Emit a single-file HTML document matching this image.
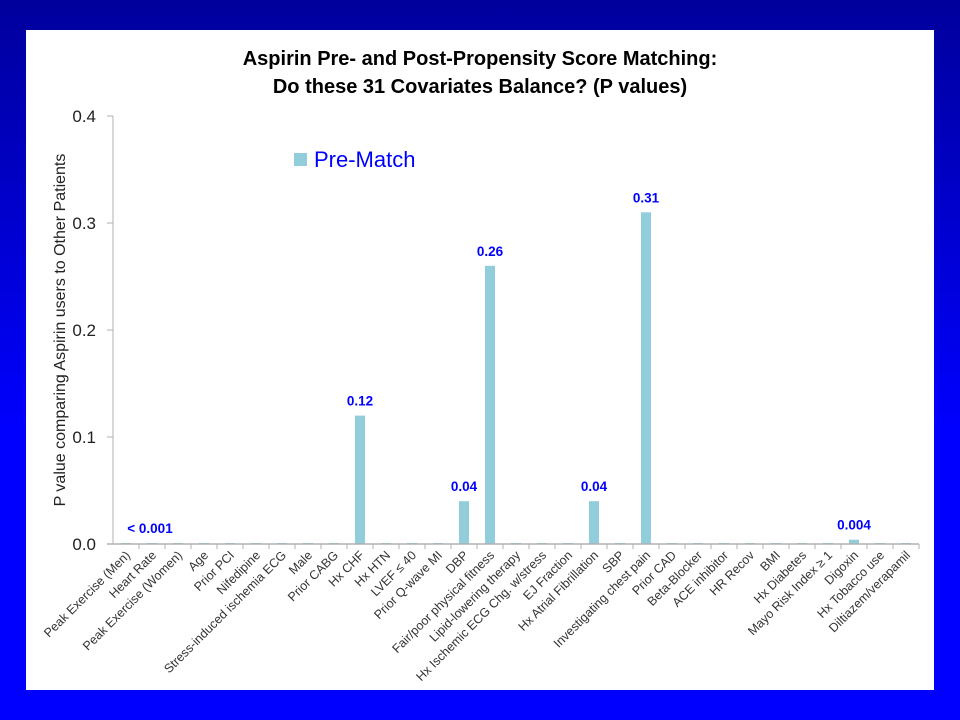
<!DOCTYPE html>
<html><head><meta charset="utf-8"><style>
body{margin:0;width:960px;height:720px;overflow:hidden;background:linear-gradient(#00009c,#0000ff 60%,#0000ff);}
svg{display:block}
text{font-family:"Liberation Sans",sans-serif}
</style></head><body>
<svg id="c" width="960" height="720">
<rect x="26" y="30" width="908" height="660" fill="#fff"/>
<text x="480" y="65" text-anchor="middle" font-size="20" font-weight="bold" fill="#000">Aspirin Pre- and Post-Propensity Score Matching:</text>
<text x="480" y="93" text-anchor="middle" font-size="20" font-weight="bold" fill="#000">Do these 31 Covariates Balance? (P values)</text>
<text transform="translate(65,330) rotate(-90)" text-anchor="middle" font-size="16" fill="#222">P value comparing Aspirin users to Other Patients</text>
<rect x="294" y="153" width="13" height="13" fill="#92cddc"/>
<text x="314" y="167" font-size="22" fill="#0000ff">Pre-Match</text>
<g id="g"></g>
</svg>
<script>
const categories=["Peak Exercise (Men)","Heart Rate","Peak Exercise (Women)","Age","Prior PCI","Nifedipine","Stress-induced ischemia ECG","Male","Prior CABG","Hx CHF","Hx HTN","LVEF \u2264 40","Prior Q-wave MI","DBP","Fair/poor physical fitness","Lipid-lowering therapy","Hx Ischemic ECG Chg. w/stress","EJ Fraction","Hx Atrial Fibrillation","SBP","Investigating chest pain","Prior CAD","Beta-Blocker","ACE inhibitor","HR Recov","BMI","Hx Diabetes","Mayo Risk Index \u2265 1","Digoxin","Hx Tobacco use","Diltiazem/verapamil"];
const values=[0.001,0.001,0.001,0.001,0.001,0.001,0.001,0.001,0.001,0.12,0.001,0.001,0.001,0.04,0.26,0.001,0.001,0.001,0.04,0.001,0.31,0.001,0.001,0.001,0.001,0.001,0.001,0.001,0.004,0.001,0.001];
const valueLabels=["< 0.001","","","","","","","","","0.12","","","","0.04","0.26","","","","0.04","","0.31","","","","","","","","0.004","",""];
const yTicks=[0,0.1,0.2,0.3,0.4];
const yTickLabels=["0.0","0.1","0.2","0.3","0.4"];
const X0=113,X1=919,Y0=544,Y1=116;
const bw=(X1-X0)/categories.length;
const y=v=>Y0-(v/0.4)*(Y0-Y1);
const xc=i=>X0+bw*(i+0.5);
const g=document.getElementById('g');
const NS="http://www.w3.org/2000/svg";
function mk(t,a){const e=document.createElementNS(NS,t);for(const k in a)e.setAttribute(k,a[k]);g.appendChild(e);return e;}
let e=mk('line',{x1:X0,y1:Y1,x2:X0,y2:Y0,stroke:'#b0b0b0','stroke-width':1});


yTicks.forEach((t,i)=>{
 let l=mk('line',{x1:X0-6,x2:X0,y1:y(t),y2:y(t),stroke:'#b0b0b0'});
 
 
 let tx=mk('text',{x:96,y:y(t)+6,'text-anchor':'end','font-size':17,fill:'#222'});
 tx.textContent=yTickLabels[i];
 
 
});
categories.forEach((c,i)=>{
 const h=Y0-y(values[i]);
 let r=mk('rect',{x:xc(i)-5,y:y(values[i]),width:10,height:Math.max(h,1),fill:'#92cddc'});
 
 
 if(valueLabels[i]){
  let vl=mk('text',{x:i===0?xc(i)+24:xc(i),y:y(values[i])-10,'text-anchor':'middle','font-size':13.5,'font-weight':'bold',fill:'#0000ff'});
  vl.textContent=valueLabels[i];
  
  
 }
 let tk=mk('line',{x1:X0+bw*(i+1),x2:X0+bw*(i+1),y1:Y0,y2:Y0+5,stroke:'#b0b0b0'});
 
 
 let t=mk('text',{transform:`translate(${xc(i)+5},${Y0+12}) rotate(-45)`,'text-anchor':'end','font-size':12.5,fill:'#333'});
 t.textContent=c;
 
 
});
e=mk('line',{x1:X0-6,y1:Y0,x2:X1,y2:Y0,stroke:'#b0b0b0','stroke-width':1.5});


</script>
</body></html>
